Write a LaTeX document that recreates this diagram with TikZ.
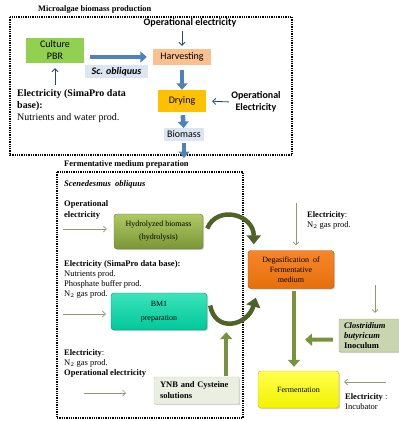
\documentclass[tikz,border=0pt]{standalone}
\usepackage{fontspec}
\setmainfont{Liberation Serif}
\newfontfamily\calibri{Carlito}
\usetikzlibrary{arrows.meta, calc, shadows}
\definecolor{FlowBlue}{HTML}{4F81BD}
\definecolor{InkBlue}{HTML}{1F497D}
\definecolor{PbrGreen}{HTML}{92D050}
\definecolor{HarvPeach}{HTML}{FAC090}
\definecolor{DryGold}{HTML}{FFC000}
\definecolor{TagBlue}{HTML}{DCE6F2}
\definecolor{OliveArrow}{HTML}{77933C}
\definecolor{DarkOlive}{HTML}{4F6228}
\definecolor{FeedGray}{HTML}{8E9B72}
\definecolor{HydTop}{HTML}{AFC963}
\definecolor{HydBot}{HTML}{7A9636}
\definecolor{BmTop}{HTML}{3CE3BC}
\definecolor{BmBot}{HTML}{00C89A}
\definecolor{DegTop}{HTML}{F7862A}
\definecolor{DegBot}{HTML}{E66F0C}
\tikzset{
  dot frame/.style={line width=1.3pt, dash pattern=on 1.3pt off 1pt},
  title node/.style={anchor=west, inner sep=0pt,
                     font=\bfseries\fontsize{8.4}{10}\selectfont},
  sans node/.style={inner sep=0pt, align=center,
                    font=\calibri\fontsize{10}{12}\selectfont},
  sans bold/.style={sans node, font=\calibri\bfseries\fontsize{10}{12}\selectfont},
  tag node/.style={sans node, fill=TagBlue, minimum height=12.5pt},
  note node/.style={anchor=north west, inner sep=0pt, align=left,
                    font=\fontsize{8.5}{10}\selectfont},
  proc node/.style={rounded corners=3pt, inner sep=2pt, align=center,
                    font=\fontsize{8}{10}\selectfont,
                    drop shadow={shadow xshift=1.2pt, shadow yshift=-1.2pt, opacity=0.35}},
  flow edge/.style={-{Triangle[length=6.5pt, width=11pt]}, line width=4.5pt, draw=FlowBlue},
  ink edge/.style={-{Straight Barb[length=3pt, width=6pt]}, line width=0.8pt, draw=InkBlue},
  feed edge/.style={-{Straight Barb[length=3pt, width=6pt]}, line width=0.7pt, draw=FeedGray},
  green edge/.style={-{Triangle[length=7pt, width=12pt]}, line width=4pt, draw=OliveArrow},
  bend edge/.style={-{Triangle[length=9pt, width=14pt]}, line width=4.5pt, draw=DarkOlive},
}
\begin{document}
\begin{tikzpicture}[x=1pt, y=-1pt]
  \useasboundingbox (0,0) rectangle (399,421);
  % microalgae biomass production
  \draw[dot frame] (10,17) rectangle (292,155);
  \node[title node] (ttl1) at (38,10) {Microalgae biomass production};
  \node[sans node, fill=PbrGreen, minimum width=58pt, minimum height=25pt] (pbr) at (55,50.5) {Culture\\PBR};
  \node[sans node, fill=HarvPeach, minimum width=58pt, minimum height=16pt] (harv) at (182,57) {Harvesting};
  \node[sans node, fill=DryGold, minimum width=48pt, minimum height=22pt] (dry) at (182,101) {Drying};
  \node[tag node, font=\calibri\bfseries\itshape\fontsize{10}{12}\selectfont, minimum width=63pt] (scob) at (116.5,71.5) {Sc. obliquus};
  \node[tag node, minimum width=40pt] (bio) at (184,134.5) {Biomass};
  \node[sans bold] (opel1) at (190,23) {Operational electricity};
  \node[sans bold] (opel2) at (256,102) {Operational\\Electricity};
  \node[note node, font=\fontsize{10}{12}\selectfont] (elec1) at (17,89)
    {\textbf{Electricity (SimaPro data}\\\textbf{base):}\\Nutrients and water prod.};
  \coordinate (out1) at (184,158);
  \draw[flow edge, shorten <=6pt, shorten >=6pt] (pbr.east |- harv.west) -- (harv.west);
  \draw[flow edge, shorten <=5pt] (harv) -- (dry);
  \draw[flow edge, shorten <=3pt] (dry) -- (bio);
  \draw[flow edge, shorten <=2pt] (bio) -- (out1);
  \draw[ink edge, shorten <=3pt, shorten >=3pt] (harv.north |- opel1.south) -- (harv.north);
  \draw[ink edge, shorten <=2pt, shorten >=6pt] (opel2.west) -- (dry.east);
  \draw[ink edge, shorten <=4pt, shorten >=5pt] (elec1.north -| pbr) -- (pbr.south);
  % fermentative medium preparation
  \draw[dot frame] (57,172) rectangle (243,418);
  \node[title node] (ttl2) at (64,164) {Fermentative medium preparation};
  \node[note node, anchor=west, font=\bfseries\itshape\fontsize{8.5}{10}\selectfont] (scen) at (64,184) {Scenedesmus\ \ obliquus};
  \node[note node, font=\bfseries\fontsize{8.5}{11}\selectfont] (opel3) at (64,200) {Operational\\electricity};
  \node[proc node, top color=HydTop, bottom color=HydBot,
        draw=HydBot!80!black, minimum width=89pt, minimum height=35pt] (hyd) at (158.5,231.5)
    {Hydrolyzed biomass\\[3pt](hydrolysis)};
  \coordinate (in1) at (63,229);
  \draw[feed edge, shorten >=7pt] (in1) -- (in1 -| hyd.west);
  \node[note node] (elec2) at (64,260)
    {\textbf{Electricity (SimaPro data base):}\\Nutrients prod.\\Phosphate buffer prod.\\N$_2$ gas prod.};
  \node[proc node, top color=BmTop, bottom color=BmBot,
        draw=BmBot!70!black, minimum width=96pt, minimum height=37pt] (bm1) at (159,311.5)
    {BM1\\[4pt]preparation};
  \coordinate (in2) at (63,314);
  \draw[feed edge, shorten >=5pt] (in2) -- (in2 -| bm1.west);
  \node[note node] (elec3) at (64,349)
    {\textbf{Electricity}:\\N$_2$ gas prod.\\\textbf{Operational electricity}};
  \node[proc node, rounded corners=1pt, fill=OliveArrow!15!white, draw=OliveArrow!45!white,
        font=\bfseries\fontsize{8.5}{11}\selectfont, align=left, text width=73pt,
        inner xsep=6pt, minimum height=27pt] (ynb) at (196.5,390.5) {YNB and Cysteine\\solutions};
  \coordinate (in3) at (84,393);
  \coordinate (in3e) at (126,393);
  \draw[feed edge] (in3) -- (in3e);
  \draw[green edge] ($(ynb.north east)+(-13,-1)$) -- ($(bm1.south east)+(19,2)$);
  % degasification and fermentation
  \node[proc node, top color=DegTop, bottom color=DegBot,
        draw=DegBot!70!black, minimum width=86pt, minimum height=38pt] (deg) at (291,269.5)
    {Degasification\ \ of\\Fermentative\\medium};
  \node[note node] (elec4) at (307,211) {\textbf{Electricity}:\\N$_2$ gas prod.};
  \coordinate (in4) at (296,203);
  \draw[feed edge, shorten >=5pt] (in4) -- (in4 |- deg.north);
  \node[proc node, top color=yellow!70!white, bottom color=yellow!95!black,
        draw=yellow!70!black, minimum width=81pt, minimum height=37pt] (ferm) at (298.5,389.5) {Fermentation};
  \draw[green edge] ($(deg.south)+(3,2)$) -- ($(ferm.north)+(-4.5,-4)$);
  \node[proc node, rounded corners=1pt, fill=OliveArrow!40!white, draw=OliveArrow!70!white,
        font=\bfseries\fontsize{8.5}{10}\selectfont, align=left, text width=52pt,
        inner xsep=5pt, minimum height=33pt] (clos) at (370,335.5)
    {\textit{Clostridium}\\\textit{butyricum}\\Inoculum};
  \coordinate (in5) at (375,285);
  \draw[feed edge, shorten >=6pt] (in5) -- (in5 |- clos.north);
  \draw[green edge] ($(clos.west)+(-6,4)$) -- ($(ferm.north)+(6.5,-31)$);
  \coordinate (in6) at (386,382);
  \draw[feed edge, shorten >=5pt] (in6) -- (in6 -| ferm.east);
  \node[note node] (elec5) at (345,393) {\textbf{Electricity} :\\Incubator};
  \draw[bend edge] ($(hyd.east)+(4,-3)$) .. controls +(10,-24) and +(0,-30) .. ($(deg.north west)+(6,-6)$);
  \draw[bend edge] ($(bm1.east)+(3,-6)$) .. controls +(5,28) and +(-8,28) .. ($(deg.south west)+(8,9)$);
\end{tikzpicture}
\end{document}
